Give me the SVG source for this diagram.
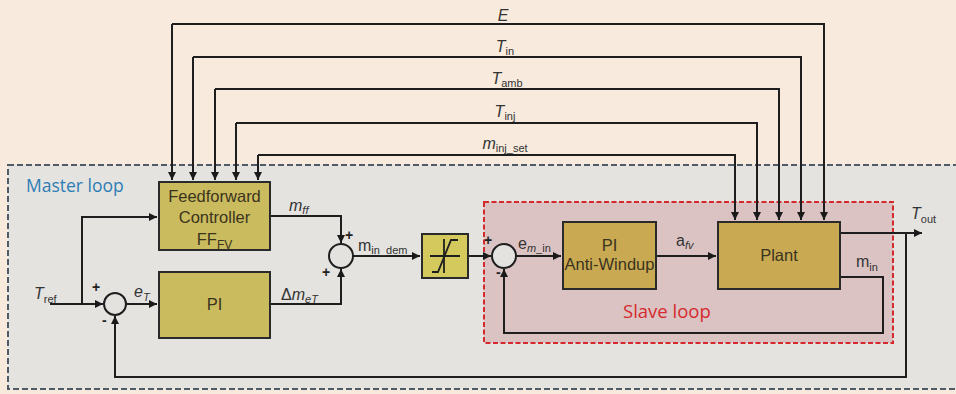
<svg xmlns="http://www.w3.org/2000/svg" width="956" height="394" viewBox="0 0 956 394">
<defs>
<marker id="ar" markerUnits="userSpaceOnUse" markerWidth="9" markerHeight="8" refX="8" refY="4" orient="auto">
<path d="M0,0 L8,4 L0,8 z" fill="#1a1a1a"/>
</marker>
<style>
.ln{fill:none;stroke:#1e1e1e;stroke-width:2}
.bx1{fill:#cabb5e;stroke:#2a2a2a;stroke-width:2}
.bx2{fill:#c9aa52;stroke:#2a2a2a;stroke-width:2}
.bx3{fill:#d3c95c;stroke:#2a2a2a;stroke-width:2}
.sum{fill:#e4e2df;stroke:#1e1e1e;stroke-width:2}
.bt{font-family:"Liberation Sans",Arial,sans-serif;fill:#3a3320;font-size:16.5px;text-anchor:middle}
.lb{font-family:"Liberation Sans",Arial,sans-serif;fill:#333;font-size:16px}
.it{font-style:italic}
.sg{font-family:"Liberation Sans",Arial,sans-serif;fill:#222;font-size:14px;font-weight:bold}
</style>
</defs>
<rect x="0" y="0" width="956" height="394" fill="#f8ebde"/>
<g id="master-loop">
<rect x="8" y="165" width="960" height="224" fill="#e5e3e0" stroke="#4f5b66" stroke-width="2" stroke-dasharray="6,3"/>
<text x="26" y="192" font-family="'Open Sans','Liberation Sans',sans-serif" font-size="17.5" fill="#2d7db5">Master loop</text>
</g>
<g id="slave-loop">
<rect x="484" y="202" width="409" height="141" fill="#dcc3c3" stroke="#d42a2e" stroke-width="2" stroke-dasharray="5,2.5"/>
<text x="623" y="318" font-family="'Open Sans','Liberation Sans',sans-serif" font-size="18.5" fill="#d42a2e">Slave loop</text>
</g>
<g id="connectors">
<path class="ln" d="M172,24 H824 V220" marker-end="url(#ar)"/>
<path class="ln" d="M172,24 V180" marker-end="url(#ar)"/>
<path class="ln" d="M193,57 H801 V220" marker-end="url(#ar)"/>
<path class="ln" d="M193,57 V180" marker-end="url(#ar)"/>
<path class="ln" d="M215,89 H779 V220" marker-end="url(#ar)"/>
<path class="ln" d="M215,89 V180" marker-end="url(#ar)"/>
<path class="ln" d="M236,123 H757 V220" marker-end="url(#ar)"/>
<path class="ln" d="M236,123 V180" marker-end="url(#ar)"/>
<path class="ln" d="M258,155 H735 V220" marker-end="url(#ar)"/>
<path class="ln" d="M258,155 V180" marker-end="url(#ar)"/>
<path class="ln" d="M50,304 H103" marker-end="url(#ar)"/>
<path class="ln" d="M82,304 V217 H157" marker-end="url(#ar)"/>
<path class="ln" d="M126,304 H157" marker-end="url(#ar)"/>
<path class="ln" d="M270,216 H341 V243" marker-end="url(#ar)"/>
<path class="ln" d="M270,304 H341 V269" marker-end="url(#ar)"/>
<path class="ln" d="M353,256 H420" marker-end="url(#ar)"/>
<path class="ln" d="M468,256 H491" marker-end="url(#ar)"/>
<path class="ln" d="M516,256 H561" marker-end="url(#ar)"/>
<path class="ln" d="M656,256 H716" marker-end="url(#ar)"/>
<path class="ln" d="M840,233 H922" marker-end="url(#ar)"/>
<path class="ln" d="M906,233 V377 H115 V316" marker-end="url(#ar)"/>
<path class="ln" d="M840,277 H883 V333 H504 V269" marker-end="url(#ar)"/>
</g>
<g id="ff-controller">
<rect class="bx1" x="159" y="182" width="111" height="68"/>
<text class="bt" x="214.5" y="202">Feedforward</text>
<text class="bt" x="214.5" y="223">Controller</text>
<text class="bt" x="214.5" y="245">FF<tspan font-size="12" dy="4">FV</tspan></text>
</g>
<g id="pi">
<rect class="bx1" x="159" y="272" width="111" height="66"/>
<text class="bt" x="214.5" y="310">PI</text>
</g>
<g id="saturation">
<rect class="bx3" x="422" y="234" width="46" height="44"/>
<path d="M430,256 H460 M444,239 V273" fill="none" stroke="#1e1e1e" stroke-width="1.8"/>
<path d="M432,272 H438 L451,240 H458" fill="none" stroke="#1e1e1e" stroke-width="1.8"/>
</g>
<g id="pi-antiwindup">
<rect class="bx2" x="563" y="222" width="93" height="67"/>
<text class="bt" x="609.5" y="251">PI</text>
<text class="bt" x="609.5" y="270">Anti-Windup</text>
</g>
<g id="plant">
<rect class="bx2" x="718" y="222" width="122" height="67"/>
<text class="bt" x="779" y="261">Plant</text>
</g>
<g id="sum1">
<circle class="sum" cx="115" cy="304" r="11"/>
<text class="sg" x="92" y="292">+</text>
<text class="sg" x="102" y="325">-</text>
</g>
<g id="sum2">
<circle class="sum" cx="341" cy="256" r="12"/>
<text class="sg" x="345" y="240">+</text>
<text class="sg" x="322" y="277">+</text>
</g>
<g id="sum3">
<circle class="sum" cx="504" cy="256" r="12"/>
<text class="sg" x="484" y="245">+</text>
<text class="sg" x="496" y="277">-</text>
</g>
<g id="labels">
<text class="lb it" x="503" y="21" text-anchor="middle">E</text>
<text class="lb" x="505" y="52" text-anchor="middle"><tspan class="it">T</tspan><tspan font-size="11" dy="3">in</tspan></text>
<text class="lb" x="507" y="84" text-anchor="middle"><tspan class="it">T</tspan><tspan font-size="11" dy="3">amb</tspan></text>
<text class="lb" x="505" y="117" text-anchor="middle"><tspan class="it">T</tspan><tspan font-size="11" dy="3">inj</tspan></text>
<text class="lb" x="505" y="149" text-anchor="middle"><tspan class="it">m</tspan><tspan font-size="11" dy="3">inj_set</tspan></text>
<text class="lb" x="34" y="299"><tspan class="it">T</tspan><tspan font-size="11" dy="4">ref</tspan></text>
<text class="lb" x="134" y="297"><tspan class="it">e</tspan><tspan font-size="11" dy="4" class="it">T</tspan></text>
<text class="lb" x="289" y="211"><tspan class="it">m</tspan><tspan font-size="11" dy="3" class="it">ff</tspan></text>
<text class="lb" x="281" y="300">Δ<tspan class="it">m</tspan><tspan font-size="11" dy="3" class="it">eT</tspan></text>
<text class="lb" x="358" y="251">m<tspan font-size="11" dy="3">in_dem</tspan></text>
<text class="lb" x="518" y="249">e<tspan font-size="11" dy="3"><tspan class="it">m</tspan>_in</tspan></text>
<text class="lb" x="676" y="246">a<tspan font-size="11" dy="3" class="it">fv</tspan></text>
<text class="lb" x="856" y="267">m<tspan font-size="11" dy="4">in</tspan></text>
<text class="lb" x="911" y="219"><tspan class="it">T</tspan><tspan font-size="11" dy="4">out</tspan></text>
</g>
</svg>
